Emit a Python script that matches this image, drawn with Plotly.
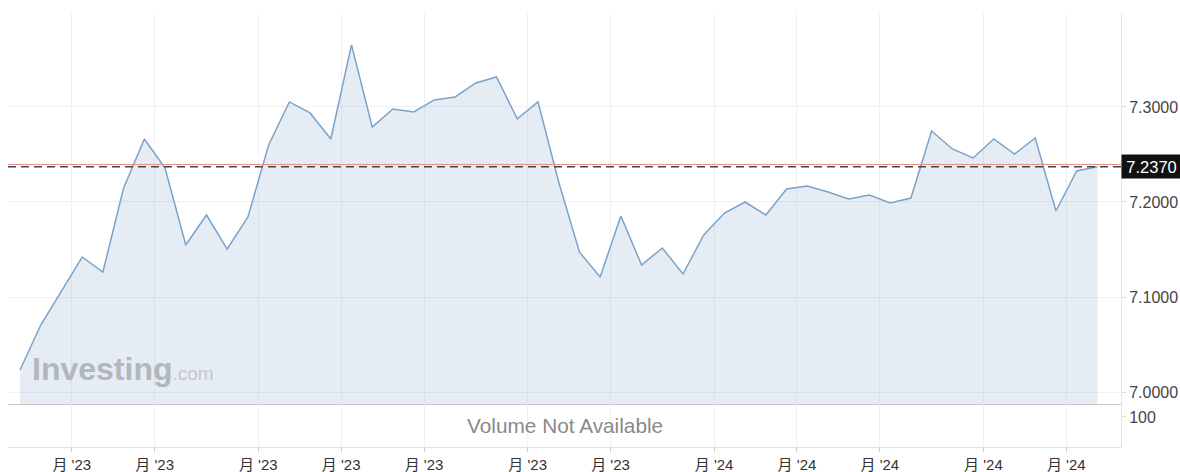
import plotly.graph_objects as go

# ---- data ----
weeks = list(range(53))
prices = [
    7.0232, 7.0705, 7.1063, 7.1421, 7.1263, 7.2147, 7.2663, 7.2358, 7.1547, 7.1863,
    7.1505, 7.1842, 7.2600, 7.3053, 7.2937, 7.2663, 7.3653, 7.2789, 7.2979, 7.2947,
    7.3074, 7.3105, 7.3253, 7.3316, 7.2874, 7.3053, 7.2211, 7.1474, 7.1211, 7.1853,
    7.1337, 7.1516, 7.1242, 7.1653, 7.1884, 7.2000, 7.1863, 7.2137, 7.2168, 7.2105,
    7.2032, 7.2074, 7.1989, 7.2042, 7.2747, 7.2558, 7.2463, 7.2663, 7.2505, 7.2674,
    7.1905, 7.2326, 7.2370,
]
last_price = 7.2370
ref_price = 7.2395
month_tick_pos = [2.5, 6.5, 11.5, 15.5, 19.5, 24.5, 28.5, 33.5, 37.5, 41.5, 46.5, 50.5]
month_tick_labels = ["月 '23"] * 7 + ["月 '24"] * 5
price_ticks = [7.0, 7.1, 7.2, 7.3]
price_tick_labels = ["7.0000", "7.1000", "7.2000", "7.3000"]
volume_ticks = [100]
volume_tick_labels = ["100"]

FONT = "Arial, 'Liberation Sans', 'Noto Sans CJK SC', sans-serif"
GRID = "#eef0f3"

fig = go.Figure()
fig.add_trace(go.Scatter(
    x=weeks, y=prices, mode="lines",
    line=dict(color="#7aa3cc", width=1.5),
    fill="tozeroy", fillcolor="rgba(130,160,200,0.2)",
    hoverinfo="skip", xaxis="x", yaxis="y",
))
# empty trace for the volume pane
fig.add_trace(go.Scatter(x=[weeks[0]], y=[None], mode="lines", xaxis="x2", yaxis="y2",
                         hoverinfo="skip"))

fig.add_shape(type="line", xref="paper", x0=0, x1=1, yref="y", y0=ref_price, y1=ref_price,
              line=dict(color="#ee8a8a", width=1))
fig.add_shape(type="line", xref="paper", x0=0, x1=1, yref="y", y0=last_price, y1=last_price,
              line=dict(color="#444444", width=1.5, dash="8px,5px"))

fig.add_annotation(xref="paper", x=1, xanchor="left", yref="y", y=last_price, yanchor="middle",
                   text="%.4f" % last_price, showarrow=False,
                   font=dict(family=FONT, size=16.5, color="white"),
                   bgcolor="#111111", width=53, height=17, borderpad=3, align="center")

fig.add_annotation(xref="paper", x=0.5, xanchor="center", yref="y2 domain", y=0.5, yanchor="middle",
                   text="Volume Not Available", showarrow=False,
                   font=dict(family=FONT, size=20.8, color="#8a8a8a"))

fig.add_annotation(xref="paper", x=0.0198, xanchor="left", yref="paper", y=0.179, yanchor="middle",
                   text="<b>Investing</b><span style='font-size:19px;color:#c3c7cd'>.com</span>",
                   showarrow=False,
                   font=dict(family=FONT, size=32, color="#b2b6bd"))

fig.update_layout(
    width=1180, height=472,
    margin=dict(l=8, r=59, t=13, b=25, autoexpand=False),
    paper_bgcolor="white", plot_bgcolor="white",
    showlegend=False,
    font=dict(family=FONT),
    xaxis=dict(domain=[0, 1], anchor="y", range=[-0.58, 53.14], automargin=False,
               tickvals=month_tick_pos, showticklabels=False, ticks="",
               showgrid=True, gridcolor=GRID, gridwidth=1, zeroline=False,
               showline=True, linecolor="#c8c8c8", linewidth=1),
    xaxis2=dict(domain=[0, 1], anchor="y2", matches="x", range=[-0.58, 53.14], automargin=False,
                tickvals=month_tick_pos, ticktext=month_tick_labels,
                ticks="outside", ticklen=4, tickcolor="#d0d0d0",
                tickfont=dict(family=FONT, size=15, color="#333333"),
                showgrid=True, gridcolor=GRID, gridwidth=1, zeroline=False,
                showline=True, linecolor="#e3e3e3", linewidth=1),
    yaxis=dict(domain=[0.0991, 1], anchor="x", side="right", range=[6.9874, 7.3989], automargin=False,
               tickvals=price_ticks, ticktext=price_tick_labels,
               ticks="outside", ticklen=4, tickcolor="#dddddd",
               tickfont=dict(family=FONT, size=16, color="#444444"),
               showgrid=True, gridcolor="#f1f1f1", zeroline=False,
               showline=True, linecolor="#e6e6e6", linewidth=1),
    yaxis2=dict(domain=[0, 0.0991], anchor="x2", side="right", range=[0, 143], automargin=False,
                tickvals=volume_ticks, ticktext=volume_tick_labels,
                ticks="outside", ticklen=4, tickcolor="#dddddd",
                tickfont=dict(family=FONT, size=16, color="#444444"),
                showgrid=False, zeroline=False,
                showline=True, linecolor="#e6e6e6", linewidth=1),
)

fig.write_html("out.html")
